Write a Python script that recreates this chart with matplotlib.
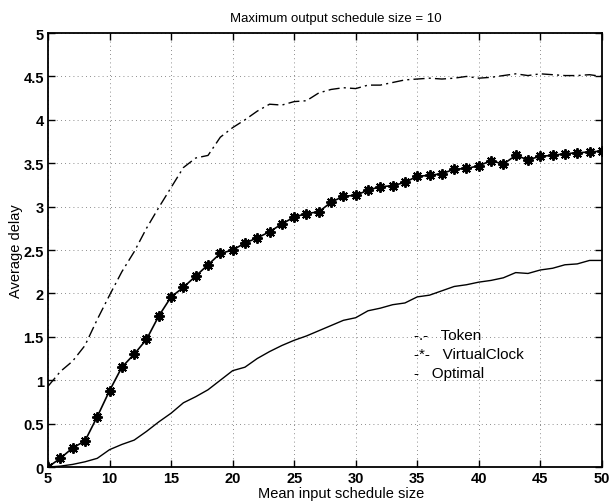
import numpy as np
import matplotlib
matplotlib.use("Agg")
import matplotlib.pyplot as plt

plt.rcParams['font.family'] = ['Liberation Sans', 'DejaVu Sans']

# input schedule size, one point per integer value
sizes = list(range(5, 51))

token = [0.93, 1.10, 1.22, 1.40, 1.70, 1.98, 2.25, 2.48, 2.75, 2.99,
         3.22, 3.45, 3.56, 3.59, 3.80, 3.91, 4.00, 4.10, 4.18, 4.17,
         4.21, 4.22, 4.31, 4.35, 4.37, 4.36, 4.40, 4.40, 4.43, 4.46,
         4.47, 4.48, 4.47, 4.48, 4.50, 4.48, 4.49, 4.51, 4.53, 4.51,
         4.53, 4.52, 4.51, 4.51, 4.52, 4.50]

virtual_clock = [0.00, 0.10, 0.22, 0.30, 0.58, 0.88, 1.15, 1.30, 1.47, 1.74,
                 1.96, 2.07, 2.20, 2.33, 2.46, 2.50, 2.58, 2.64, 2.71, 2.80,
                 2.88, 2.92, 2.94, 3.05, 3.12, 3.13, 3.19, 3.23, 3.24, 3.28,
                 3.35, 3.36, 3.38, 3.43, 3.44, 3.47, 3.53, 3.49, 3.59, 3.54,
                 3.58, 3.59, 3.61, 3.62, 3.63, 3.64]

optimal = [0.00, 0.01, 0.03, 0.06, 0.10, 0.20, 0.26, 0.31, 0.41, 0.52,
           0.62, 0.74, 0.81, 0.89, 1.00, 1.11, 1.15, 1.25, 1.33, 1.40,
           1.46, 1.51, 1.57, 1.63, 1.69, 1.72, 1.80, 1.83, 1.87, 1.89,
           1.96, 1.98, 2.03, 2.08, 2.10, 2.13, 2.15, 2.18, 2.24, 2.23,
           2.27, 2.29, 2.33, 2.34, 2.38, 2.38]

series_names = ['Token', 'VirtualClock', 'Optimal']
legend_samples = ['-.-', '-*-', '-']

x_ticks = [5, 10, 15, 20, 25, 30, 35, 40, 45, 50]
y_ticks = [0, 0.5, 1, 1.5, 2, 2.5, 3, 3.5, 4, 4.5, 5]
y_labels = ['0', '0.5', '1', '1.5', '2', '2.5', '3', '3.5', '4', '4.5', '5']

fig = plt.figure(figsize=(6.11, 5.02), dpi=100)
ax = fig.add_axes([0.0786, 0.0677, 0.9064, 0.8645])

ax.plot(sizes, token, color='black', lw=1.0,
        linestyle=(0, (8, 3, 1.5, 3)))
ax.plot(sizes, virtual_clock, color='black', lw=1.2, marker=(8, 2, 0),
        markersize=7.5, markeredgewidth=1.4)
ax.plot(sizes, optimal, color='black', lw=1.0)

ax.set_xlim(5, 50)
ax.set_ylim(0, 5)
ax.set_xticks(x_ticks)
ax.set_yticks(y_ticks)
ax.set_yticklabels(y_labels)
ax.tick_params(direction='in', length=5, width=1, top=True, right=True,
               labelsize=10.5, pad=3)
for lab in ax.get_xticklabels() + ax.get_yticklabels():
    lab.set_fontweight('bold')
ax.grid(True, color='black', linestyle=(0, (1, 4)), linewidth=0.6, alpha=0.6)
for sp in ax.spines.values():
    sp.set_linewidth(1.3)

ax.set_title('Maximum output schedule size = 10', fontsize=9.5, pad=9, x=0.52)
ax.set_xlabel('Mean input schedule size', fontsize=10.5)
ax.xaxis.set_label_coords(0.53, -0.043)
ax.set_ylabel('Average delay', fontsize=10.5, labelpad=0)

# old-style legend: line-type code followed by the series name
for i, (sample, name) in enumerate(zip(legend_samples, series_names)):
    ax.text(0.661, 0.305 - i * 0.044, f'{sample}   {name}',
            transform=ax.transAxes, fontsize=11, va='center', ha='left')

fig.savefig('out.png', dpi=100)
